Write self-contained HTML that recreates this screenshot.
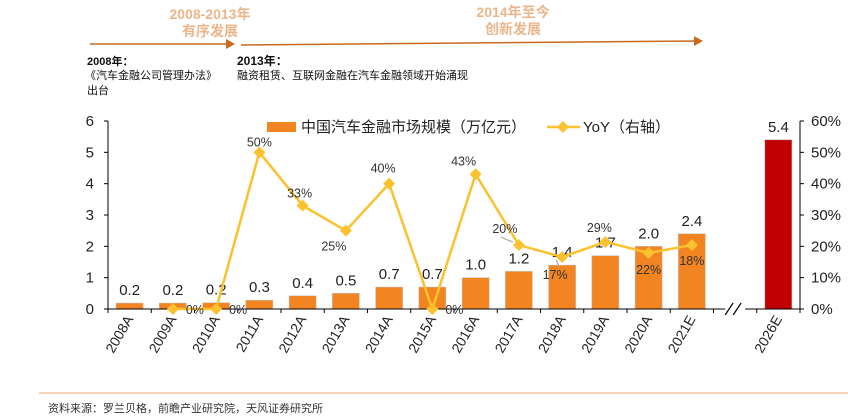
<!DOCTYPE html>
<html><head><meta charset="utf-8">
<style>
body{margin:0;background:#fff;}
svg{display:block;font-family:"Liberation Sans","Noto Sans CJK SC",sans-serif;}
</style></head>
<body>
<svg id="chart" width="848" height="417" viewBox="0 0 848 417">
<g>
  <text x="210" y="19" font-size="14" font-weight="bold" fill="#ebb68b" text-anchor="middle">2008-2013年</text>
  <text x="210" y="36" font-size="14" font-weight="bold" fill="#ebb68b" text-anchor="middle">有序发展</text>
  <text x="513" y="17" font-size="14" font-weight="bold" fill="#ebb68b" text-anchor="middle">2014年至今</text>
  <text x="513" y="34" font-size="14" font-weight="bold" fill="#ebb68b" text-anchor="middle">创新发展</text>
  <line x1="90" y1="44" x2="228" y2="44" stroke="#c96a1e" stroke-width="1.5"/>
  <polygon points="226,39 235,44 226,49" fill="#c96a1e"/>
  <line x1="241" y1="45" x2="696" y2="41" stroke="#c96a1e" stroke-width="1.5"/>
  <polygon points="694,36 703,41 694,46" fill="#c96a1e"/>
  <text x="87" y="65" font-size="11" font-weight="bold" fill="#111">2008年：</text>
  <text x="85" y="79" font-size="11" fill="#111">《汽车金融公司管理办法》</text>
  <text x="87" y="94" font-size="11" fill="#111">出台</text>
  <text x="237" y="65" font-size="12" font-weight="bold" fill="#111">2013年：</text>
  <text x="237" y="79" font-size="11" fill="#111">融资租赁、互联网金融在汽车金融领域开始涌现</text>
</g>
<g id="plot"></g>
<line x1="39" y1="393" x2="848" y2="393" stroke="#f0a46a" stroke-width="1"/>
<text x="48" y="412" font-size="11" fill="#333">资料来源：罗兰贝格，前瞻产业研究院，天风证券研究所</text>
</svg>
<script>
const categories=["2008A","2009A","2010A","2011A","2012A","2013A","2014A","2015A","2016A","2017A","2018A","2019A","2020A","2021E","","2026E"];
const marketSize=[0.19,0.19,0.2,0.28,0.42,0.5,0.7,0.7,1.0,1.2,1.4,1.7,2.0,2.4,null,5.4];
const sizeLabels=["0.2","0.2","0.2","0.3","0.4","0.5","0.7","0.7","1.0","1.2","1.4","1.7","2.0","2.4","","5.4"];
const yoy=[null,0,0,50,33,25,40,0,43,20.4,16.6,21.4,17.9,20.4,null,null];
const yoyLabels=["","0%","0%","50%","33%","25%","40%","0%","43%","20%","17%","29%","22%","18%","",""];
const leftTicks=[0,1,2,3,4,5,6];
const rightTicks=[0,10,20,30,40,50,60];
// label placement offsets (layout, not data)
const labelDx=[0,22,22,0,-3,-12,-6,22,-12,-14,-7,-6,0,0,0,0];
const labelDy=[0,5,5,-6,-8,20,-11,5,-9,-12,22,-10,21,20,0,0];

const NS="http://www.w3.org/2000/svg";
const g=document.getElementById('plot');
const X0=108,X1=800,Y0=309,Y6=121,slot=(X1-X0)/16;
const xC=i=>X0+slot*(i+0.5);
const yL=v=>Y0-(Y0-Y6)*v/6;
const yR=v=>Y0-(Y0-Y6)*v/60;
function mk(tag,attrs,parent){const e=document.createElementNS(NS,tag);for(const k in attrs)e.setAttribute(k,attrs[k]);(parent||g).appendChild(e);return e;}

// bars
categories.forEach((c,i)=>{
  if(marketSize[i]==null)return;
  const b=mk('rect',{x:xC(i)-13.5,y:yL(marketSize[i]),width:27,height:Y0-yL(marketSize[i]),fill:c==="2026E"?"#c00000":"#f28522",stroke:"#bbb","stroke-width":0.5});
  
  
  const t=mk('text',{x:xC(i),y:yL(marketSize[i])-8,"font-size":15,"text-anchor":"middle",fill:"#222"});
  t.textContent=sizeLabels[i];
  
  
});
// axes
let ax=mk('line',{x1:X0,y1:Y6,x2:X0,y2:Y0,stroke:"#000"});


ax=mk('line',{x1:X1,y1:Y6,x2:X1,y2:Y0,stroke:"#000"});


ax=mk('line',{x1:X0,y1:Y0,x2:X1,y2:Y0,stroke:"#000"});


leftTicks.forEach(v=>{
  mk('line',{x1:X0-4,y1:yL(v),x2:X0,y2:yL(v),stroke:"#000"});
  const t=mk('text',{x:X0-14,y:yL(v)+5,"font-size":15,"text-anchor":"end",fill:"#222"});
  t.textContent=v;
  
  
});
rightTicks.forEach(v=>{
  mk('line',{x1:X1,y1:yR(v),x2:X1+4,y2:yR(v),stroke:"#000"});
  const t=mk('text',{x:X1+11,y:yR(v)+5,"font-size":15,fill:"#222"});
  t.textContent=v+"%";
  
  
});
for(let i=0;i<=16;i++){mk('line',{x1:X0+slot*i,y1:Y0,x2:X0+slot*i,y2:Y0+4,stroke:"#000"});}
// break marks
const bx=xC(14);
mk('rect',{x:bx-10,y:Y0-2,width:20,height:4,fill:"#fff"});
mk('line',{x1:bx-10,y1:Y0+6,x2:bx-2,y2:Y0-6,stroke:"#000","stroke-width":1.2});
mk('line',{x1:bx-2,y1:Y0+6,x2:bx+6,y2:Y0-6,stroke:"#000","stroke-width":1.2});
// category labels
categories.forEach((c,i)=>{
  if(!c)return;
  const t=mk('text',{transform:`translate(${xC(i)+4},${Y0+10}) rotate(-60)`,"font-size":14,"text-anchor":"end",fill:"#222"});
  t.textContent=c;
  
  
});
// yoy line
let pts=[];
yoy.forEach((v,i)=>{if(v!=null)pts.push(xC(i)+","+yR(v));});
const ln=mk('polyline',{points:pts.join(" "),fill:"none",stroke:"#fcc12f","stroke-width":2.5});


// leader lines
[9,10].forEach(i=>{
  const l=mk('line',{x1:xC(i)-6,y1:yR(yoy[i])+(i==9?-3:3),x2:xC(i)+labelDx[i]+(i==9?-4:4),y2:yR(yoy[i])+labelDy[i]+(i==9?4:-12),stroke:"#aaa","stroke-width":1.2});
  
  
});
yoy.forEach((v,i)=>{
  if(v==null)return;
  const x=xC(i),y=yR(v);
  const m=mk('polygon',{points:`${x},${y-6} ${x+6},${y} ${x},${y+6} ${x-6},${y}`,fill:"#fcc12f"});
  
  
  const t=mk('text',{x:x+labelDx[i],y:y+labelDy[i],"font-size":12.5,"text-anchor":"middle",fill:"#333"});
  t.textContent=yoyLabels[i];
  
  
});
// legend
const lg=mk('g',{});


const r=mk('rect',{x:267,y:122,width:29,height:10,fill:"#f28522"},lg);


let lt=mk('text',{x:301,y:132,"font-size":15,fill:"#222"},lg);
lt.textContent="中国汽车金融市场规模（万亿元）";


mk('line',{x1:547,y1:127,x2:580,y2:127,stroke:"#fcc12f","stroke-width":2.5},lg);
mk('polygon',{points:"563,121 569,127 563,133 557,127",fill:"#fcc12f"},lg);
lt=mk('text',{x:583,y:132,"font-size":15,fill:"#222"},lg);
lt.textContent="YoY（右轴）";


</script>
</body></html>
